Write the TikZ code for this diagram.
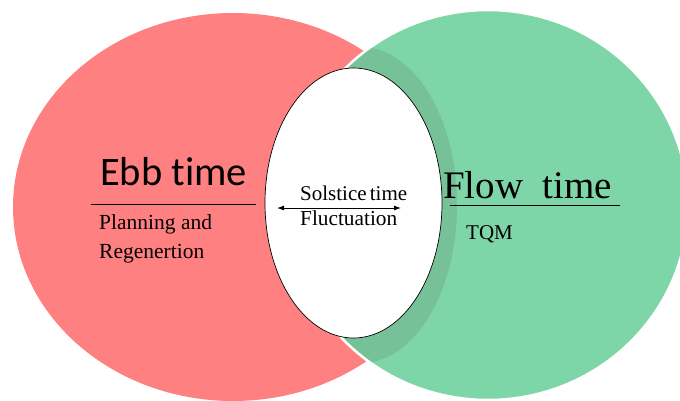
\documentclass[tikz,border=0pt]{standalone}
\usepackage{fontspec}
\setmainfont{Liberation Serif}
\newfontfamily\calib[Ligatures=NoCommon]{Carlito}
\usetikzlibrary{arrows.meta}
\definecolor{ebbred}{RGB}{255,128,128}
\definecolor{flowgreen}{RGB}{126,214,168}
\definecolor{shadowc}{RGB}{90,110,90}
\tikzset{
  lbl/.style={anchor=base west, inner sep=0pt, text=black},
  rule/.style={line width=0.8pt, black},
}
\begin{document}
\begin{tikzpicture}[x=1pt,y=-1pt]
\useasboundingbox (0,0) rectangle (680,400);
% circles
\fill[ebbred] (233,207) ellipse [x radius=220, y radius=194];
\filldraw[fill=flowgreen, draw=white, line width=2.5pt] (488,205) ellipse [x radius=200, y radius=195];
\begin{scope}
  \clip (488,205) ellipse [x radius=198.5, y radius=193.5];
  \fill[shadowc, opacity=0.2] (361,205) ellipse [x radius=96, y radius=158];
\end{scope}
\draw[fill=white, line width=0.7pt] (353.5,203) ellipse [x radius=88.5, y radius=135];
% texts
\node[lbl, font=\calib\fontsize{40.5}{48}\selectfont] (ebb) at (100,185) {Ebb time};
\coordinate (ebbL) at (91,204);
\coordinate (ebbR) at (256,204);
\draw[rule] (ebbL) -- (ebbR);
\node[lbl, font=\fontsize{21.5}{25}\selectfont] (plan) at (99,229) {Planning and};
\node[lbl, font=\fontsize{21.5}{25}\selectfont] (regen) at (99,258) {Regenertion};
\node[lbl, font=\fontsize{39}{46}\selectfont] (flow) at (443,198) {Flow\ \ time};
\coordinate (flowL) at (450,205);
\coordinate (flowR) at (620,205);
\draw[rule] (flowL) -- (flowR);
\node[lbl, font=\fontsize{21}{25}\selectfont] (tqm) at (466,239) {TQM};
\node[lbl, font=\fontsize{21}{25}\selectfont] (sol) at (300,200) {Solstice\hspace{0.15em}time};
\node[lbl, font=\fontsize{21.3}{25}\selectfont] (fluc) at (300,225) {Fluctuation};
\coordinate (arL) at (277,208);
\coordinate (arR) at (401,208);
\draw[line width=0.9pt, {Latex[length=7pt,width=5pt]}-{Latex[length=7pt,width=5pt]}] (arL) -- (arR);
\end{tikzpicture}
\end{document}
